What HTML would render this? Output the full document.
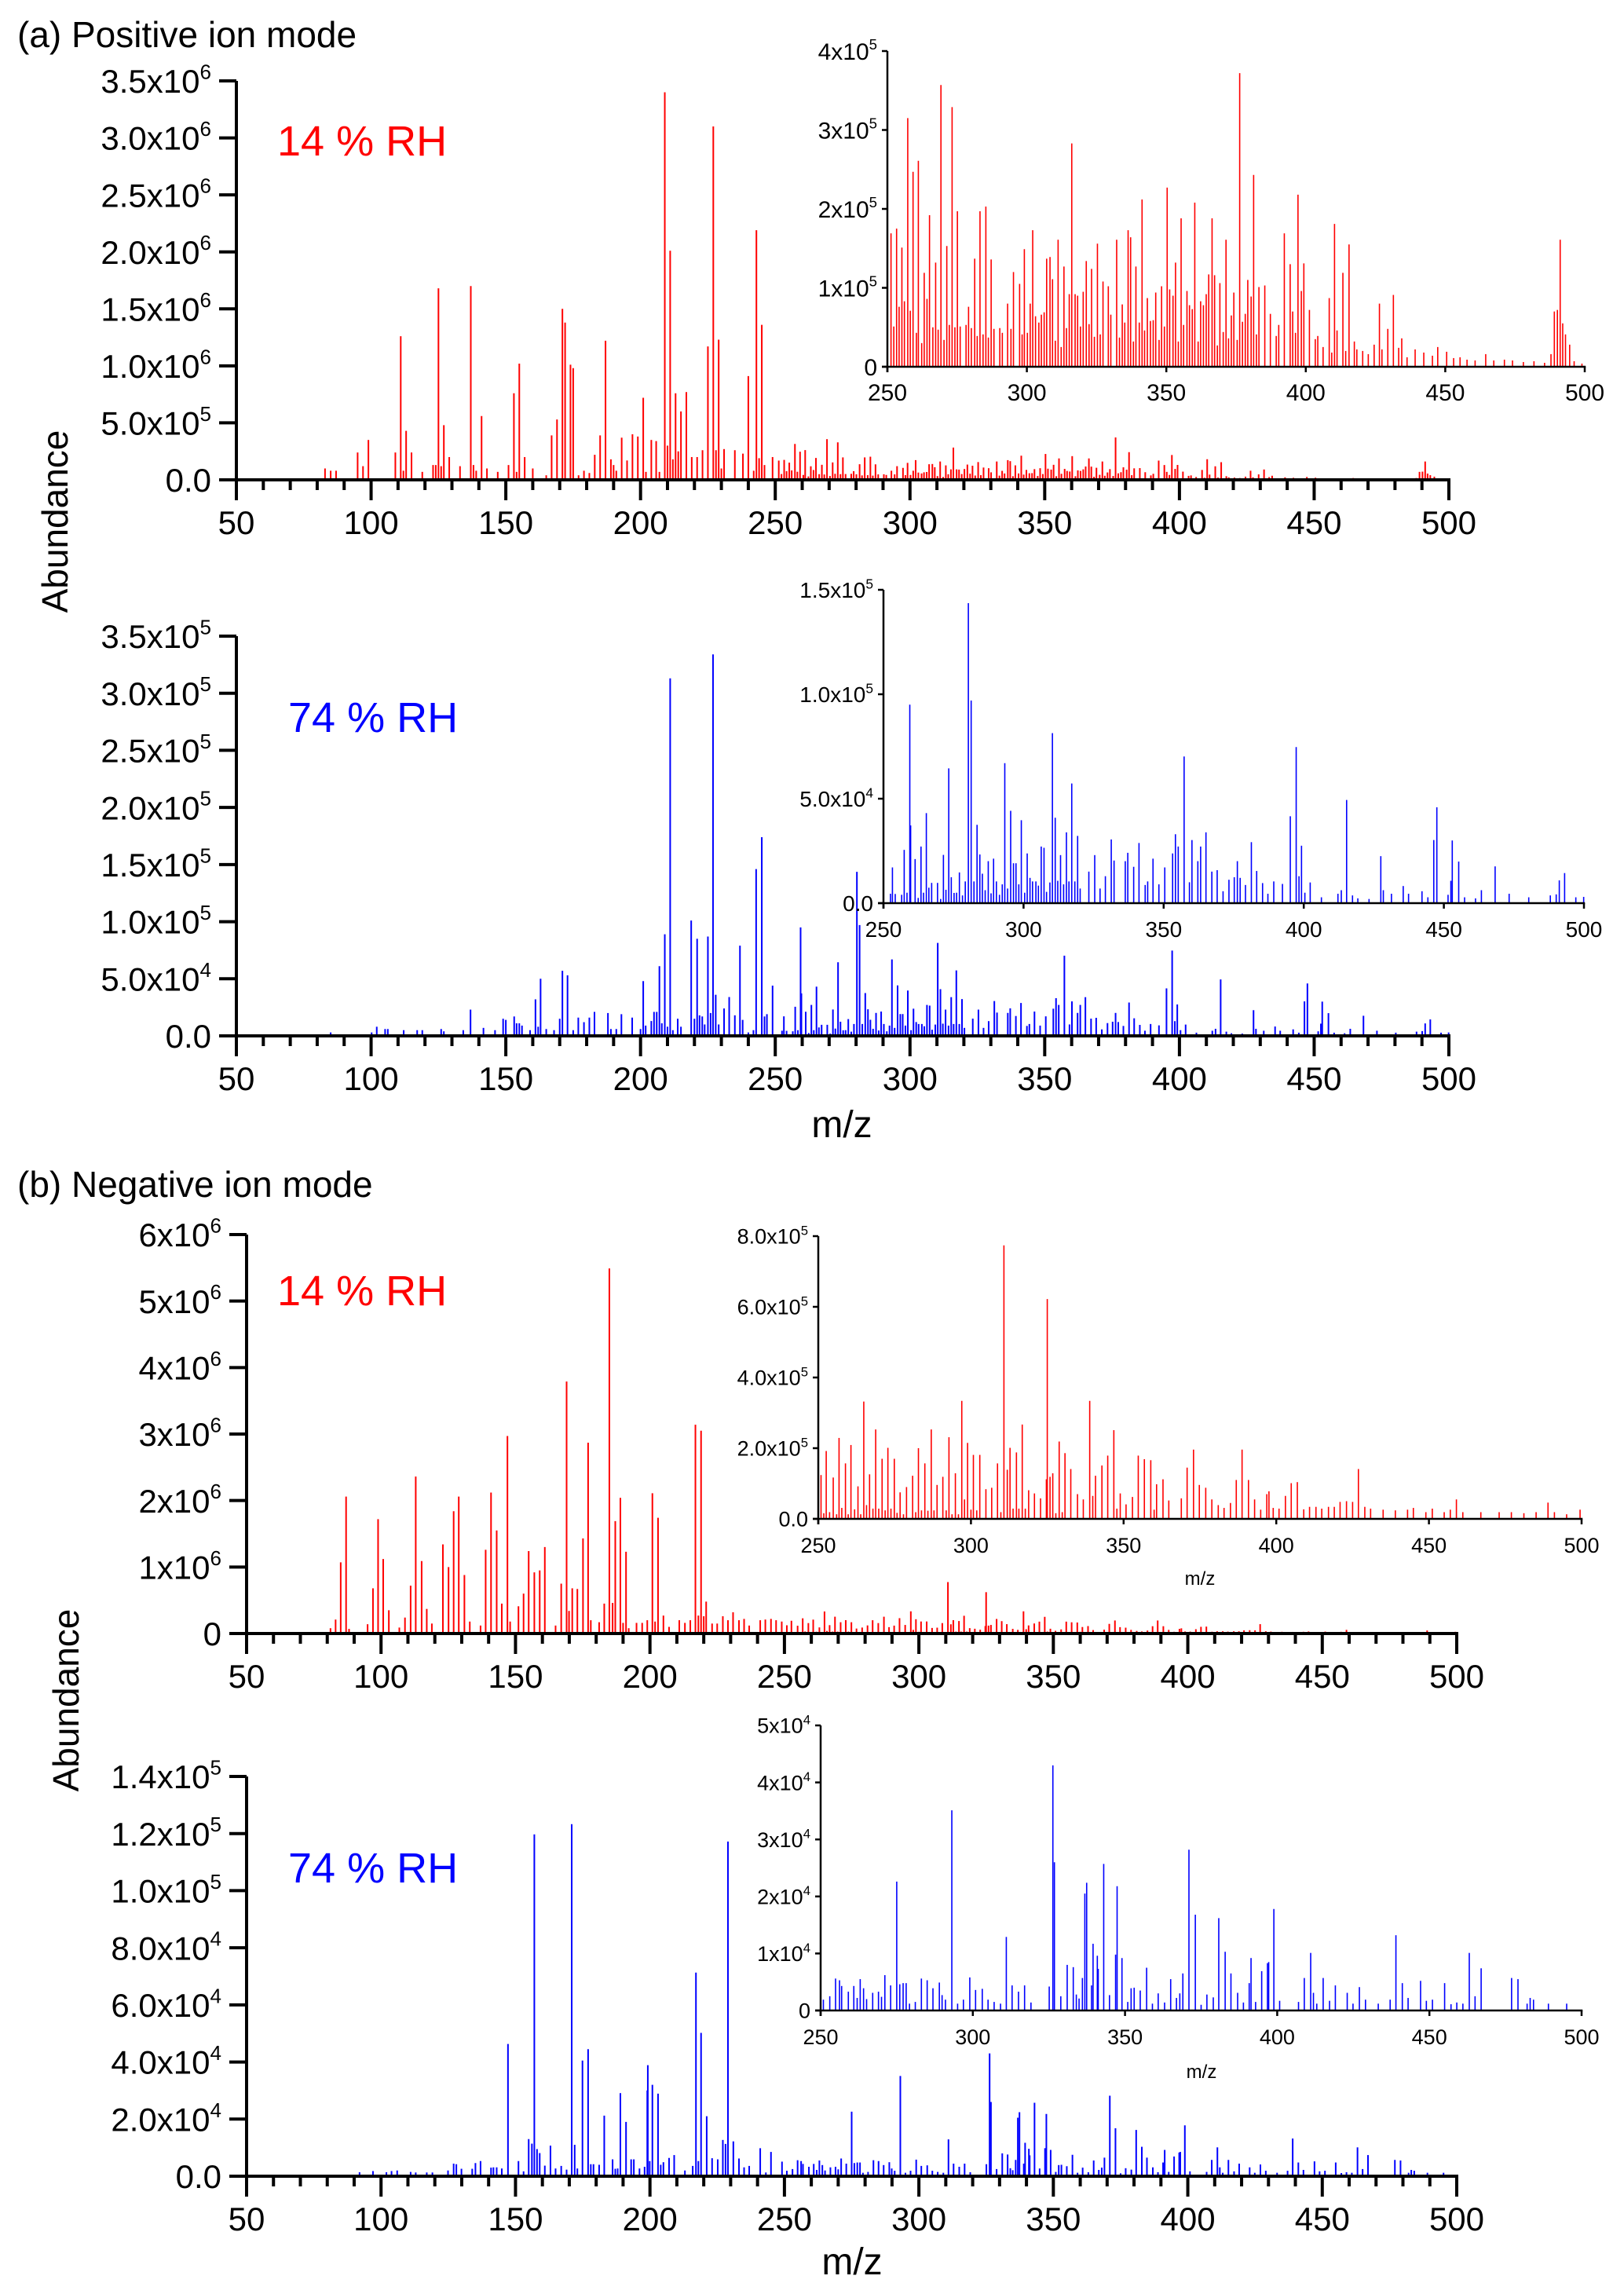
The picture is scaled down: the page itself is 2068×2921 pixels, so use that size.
<!DOCTYPE html>
<html><head><meta charset="utf-8"><title>Mass spectra</title>
<style>
html,body{margin:0;padding:0;background:#fff;}
svg{display:block;font-family:"Liberation Sans",Arial,sans-serif;}
</style></head>
<body>
<svg id="fig" width="2068" height="2921" viewBox="0 0 2068 2921" xmlns="http://www.w3.org/2000/svg">
<rect x="0" y="0" width="2068" height="2921" fill="#fff"/>
<text x="22" y="60" font-size="46" fill="#000">(a) Positive ion mode</text>
<text x="22" y="1524" font-size="46" fill="#000">(b) Negative ion mode</text>
<text x="353" y="198" font-size="54" fill="#ff0000">14 % RH</text>
<text x="367" y="932" font-size="54" fill="#0000ff">74 % RH</text>
<text x="353" y="1662" font-size="54" fill="#ff0000">14 % RH</text>
<text x="367" y="2397" font-size="54" fill="#0000ff">74 % RH</text>
<text transform="translate(86,664) rotate(-90)" text-anchor="middle" font-size="46" fill="#000">Abundance</text>
<text transform="translate(100,2165) rotate(-90)" text-anchor="middle" font-size="46" fill="#000">Abundance</text>
<text x="1072" y="1448" text-anchor="middle" font-size="48" fill="#000">m/z</text>
<text x="1085" y="2896" text-anchor="middle" font-size="48" fill="#000">m/z</text>
<text x="1528" y="2018" text-anchor="middle" font-size="24" fill="#000">m/z</text>
<text x="1530" y="2646" text-anchor="middle" font-size="24" fill="#000">m/z</text>
<g id="layer"></g>
</svg>
<script>
// ---- Spectrum (a) positive, 14 % RH ----  low: x1e6, high: x1e5
const a1MzLow=[82.9,85,87,95,97,99,109,111,112,113,115,119,123,124,125,126,127,129,133,137,138,139,141,143,147,151,153,154,155,157,160,165,167,169,171,172,174,175,177,179,181,183,185,187,189,190,191,193,195,197,199,201,202,204,205.8,207,209,210,211,212,213,214,215,217,219,221,223,225,227,228,229,230,231,235,238,240,242,243,244,245,246,249];
const a1AbLow=[0.1,0.08,0.08,0.24,0.12,0.35,0.24,1.26,0.08,0.43,0.24,0.07,0.13,0.13,1.68,0.12,0.48,0.2,0.12,1.70,0.13,0.08,0.56,0.1,0.07,0.13,0.76,0.07,1.02,0.2,0.1,0.04,0.39,0.53,1.50,1.38,1.01,0.98,0.04,0.08,0.06,0.22,0.39,1.22,0.18,0.13,0.08,0.37,0.17,0.4,0.38,0.72,0.07,0.35,0.34,0.07,3.40,0.3,2.01,0.18,0.76,0.25,0.6,0.77,0.2,0.2,0.26,1.17,3.10,0.26,1.23,0.1,0.27,0.26,0.23,0.91,0.08,2.19,0.19,1.36,0.13,0.2];
const a1MzHigh=[251.3,252.3,253.3,254.2,255.2,256.1,257.3,258.2,259.2,260.4,261.1,262.3,263.2,264.2,265.1,266.3,267.3,268.2,269.2,270.3,271.3,272.2,273.2,274.2,275.1,276.1,278.2,279.1,280.1,281.3,282.2,283.2,284.3,285.3,286.2,287.2,288.2,290.3,291.2,293.1,294.3,295.2,297.4,298.3,299.1,300.2,301.2,302.1,303.1,304.3,305.2,306.2,307.1,308.3,309.2,310.2,311.2,312.3,313.3,314.2,315.2,316.1,317.3,318.2,319.2,320.2,321.3,322.3,323.2,324.2,325.3,326.3,327.3,329.2,330.1,332.2,333.2,334.2,335.1,336.3,337.2,338.2,339.1,340.3,341.3,342.2,343.2,344.3,345.3,346.2,347.4,348.3,349.3,350.3,351.2,352.4,353.3,354.3,355.3,356.2,357.4,358.3,359.3,360.2,361.4,362.3,363.3,364.3,365.2,366.4,367.3,368.3,369.2,370.4,371.4,372.3,373.3,374.2,375.4,376.3,377.3,378.3,379.2,380.4,381.3,382.3,383.2,385.3,387.3,389.4,390.3,392.3,394.4,395.3,396.3,397.2,398.4,399.3,401.3,403.4,404.3,406.2,408.4,409.3,410.3,411.2,413.3,414.3,415.5,417.4,418.3,420.4,422.4,424.5,426.4,427.3,429.4,431.4,433.3,434.4,436.3,439.2,442.3,445.4,447.3,450.5,453,455.3,457.8,460.7,464.5,467.4,471.2,474.1,478,481.8,485.6,487.9,489.1,490.2,491.2,492.1,493.1,494.6,496.2,499];
const a1AbHigh=[1.69,0.51,1.75,0.76,1.51,0.83,3.15,0.71,2.47,0.43,2.61,0.30,1.19,0.86,1.92,0.5,1.32,0.47,3.57,0.34,1.53,0.53,3.29,0.5,1.97,0.51,0.53,0.76,0.49,1.37,0.39,1.97,0.41,2.03,0.37,1.36,0.48,0.49,0.43,0.8,0.48,1.2,1.05,0.41,1.49,0.43,0.8,1.73,0.64,0.56,0.66,0.69,1.37,1.39,1.11,0.33,1.61,0.25,1.27,0.49,0.92,2.83,0.92,0.9,0.51,0.95,1.34,0.54,1.24,0.38,1.56,0.41,1.08,1.02,0.66,1.61,0.37,0.79,0.56,1.73,1.64,0.32,1.27,0.56,2.12,0.46,0.87,0.58,0.59,0.94,0.34,1.02,0.51,2.27,0.98,0.9,1.32,0.32,1.88,0.53,0.96,0.78,0.73,2.08,0.32,0.83,0.78,0.92,1.17,1.88,1.16,0.27,1.06,0.44,1.61,0.36,0.65,0.94,0.34,3.72,0.57,0.67,1.10,0.89,2.43,0.41,1.01,1.03,0.67,0.39,0.53,1.69,1.3,0.7,0.43,2.18,0.96,1.31,0.72,0.35,0.39,0.25,0.87,0.18,1.81,0.46,1.19,0.2,1.55,0.32,0.22,0.2,0.16,0.28,0.8,0.22,0.48,0.91,0.24,0.36,0.12,0.22,0.18,0.14,0.25,0.19,0.11,0.12,0.09,0.08,0.16,0.08,0.09,0.08,0.06,0.07,0.05,0.16,0.7,0.72,1.61,0.55,0.41,0.28,0.07,0.04];

// ---- Spectrum (a) positive, 74 % RH ----  low: x1e5, high: x1e4
const a2MzLow=[85,100.2,102.1,105.2,106.2,112.1,117.1,119,126,127,134.2,136.9,141.7,146,149,150,153.1,154,155,156,159,161,162,162.9,165,167.9,170,171,172.9,175,176.9,179,181,182.9,187.9,189,191,192.9,196.9,200,201,201.9,204,205,206,207,207.9,209,210,211,212,213.8,215,218.8,220,221,221.9,222.9,223.8,225,226,226.9,227.9,229,231,232.9,235,236.9,237.9,240,241.9,242.9,245,246,246.9,249];
const a2AbLow=[0.03,0.03,0.08,0.06,0.06,0.05,0.05,0.05,0.06,0.04,0.05,0.23,0.07,0.05,0.15,0.14,0.17,0.11,0.11,0.09,0.05,0.32,0.08,0.50,0.06,0.05,0.15,0.57,0.53,0.05,0.16,0.12,0.16,0.21,0.2,0.06,0.06,0.19,0.16,0.06,0.48,0.09,0.13,0.21,0.21,0.61,0.11,0.89,0.08,3.13,0.05,0.15,0.08,1.01,0.15,0.85,0.18,0.17,0.1,0.87,0.2,3.34,0.36,0.1,0.24,0.34,0.18,0.79,0.14,0.03,0.05,1.46,1.74,0.17,0.19,0.44];
const a2MzHigh=[252.5,253.2,254.2,256.5,257.4,258.4,259.4,259.7,261.3,262.4,263.4,264.3,265.3,266.2,267.2,269.3,270.4,271.4,272.3,273.3,274.2,275.2,276.1,277.1,278.2,279.2,280.3,281.3,282.3,283.4,284.4,285.3,286.3,287.4,288.4,289.3,290.3,291.4,292.4,293.3,294.3,295.4,296.4,297.3,298.3,299.2,300.4,301.3,302.3,303.2,304.4,305.3,306.3,307.3,308.2,309.4,310.3,311.3,312.2,313.2,314.3,315.3,316.2,317.2,318.3,319.3,320.2,323.3,325.4,327.3,329.2,331.3,332.3,336.3,337.2,339.3,341.2,343.4,344.3,346.2,348.3,350.4,353.2,354.2,355.2,357.3,359.2,360.1,362.2,363.2,365.1,367.2,369.1,371.2,373.3,375.2,376.3,377.3,379.2,381.3,383.2,385.3,387.2,389.3,392.4,395.2,397.3,398.3,399.2,400.4,402.3,406.3,412.2,413.4,415.3,417.4,419.3,423.3,427.5,428.4,431.3,435.5,437.4,442.2,444.3,446.4,447.5,451.5,452.5,453,455.3,457.4,461.3,463.4,468.3,473.3,480.3,488,490.1,491.2,493.1,497.1,499.9];
const a2AbHigh=[0.45,1.71,0.44,0.4,2.55,0.5,9.5,3.72,2.11,0.25,2.71,0.5,4.31,0.74,0.97,0.97,0.2,2.31,0.64,6.45,1.24,0.49,0.5,1.47,0.37,1.04,14.36,9.7,1.04,3.75,2.33,1.41,0.62,2.01,0.47,2.13,1.04,0.4,0.9,6.7,0.7,4.42,1.91,1.91,0.9,3.97,0.5,2.38,1.21,1.04,1.04,0.84,2.71,2.65,0.54,0.99,8.14,4.09,1.07,2.3,0.9,3.39,1.04,5.73,1.04,3.22,0.7,1.51,2.3,0.7,1.29,3.05,2.04,2.01,2.41,1.74,2.88,0.87,1.04,2.13,0.9,1.71,2.38,3.3,2.71,7.02,1.0,3.02,2.01,2.71,3.39,1.51,1.58,0.57,1.12,1.24,2.01,1.21,0.87,2.92,1.54,0.96,0.45,1.04,0.92,4.16,7.47,1.29,2.75,0.5,0.99,0.28,0.45,0.62,4.94,0.37,0.23,0.2,2.25,0.62,0.45,0.82,0.45,0.57,0.28,3.02,4.59,0.4,1.07,3.0,1.99,0.28,0.23,0.62,1.76,0.45,0.28,0.37,0.42,1.09,1.44,0.28,0.3];

// ---- Spectrum (b) negative, 14 % RH ----  low: x1e6, high: x1e5
const b1MzLow=[81.2,83.1,85,87,88.1,95,97,98.9,100.8,102.9,106.8,108.9,111,112.9,115.1,117,118.9,123,125.1,127,128.9,131,133,137,138.9,140.9,143,144.9,147,148,151.1,153,154.9,157,159,160.9,164.9,167,169,169.9,171.1,173,175.1,177,178,181.1,183,184.9,186.1,187.1,189,190,191.1,192.1,195,197.1,199,200.9,201.9,203,205,207.1,210.9,213,215,216.9,218,219,220,220.9,223.1,225,227.1,229,230.9,233.1,235,236.9,241,242.9,245,246.9,249];
const b1AbLow=[0.08,0.21,1.07,2.06,0.07,0.14,0.68,1.72,1.12,0.35,0.09,0.24,0.72,2.36,1.09,0.37,0.15,1.34,1.0,1.84,2.06,0.88,0.18,0.12,1.26,2.12,1.55,0.45,2.97,0.18,0.41,0.6,1.24,0.92,0.95,1.3,0.12,0.75,3.79,0.34,0.68,0.67,1.43,2.87,0.2,0.17,0.45,5.49,0.46,1.69,2.04,0.16,1.23,0.08,0.16,0.16,0.2,2.11,0.18,1.74,0.27,0.1,0.2,0.16,0.2,3.14,0.27,3.05,0.26,0.48,0.15,0.15,0.26,0.2,0.32,0.2,0.22,0.12,0.2,0.21,0.22,0.2,0.18];
const b1MzHigh=[250.9,251.8,252.6,253.7,254.9,256,256.8,257.7,258.9,259.8,260.7,261.9,263,263.9,264.9,265.8,266.8,267.9,268.8,269.8,270.9,271.9,272.8,273.8,274.9,275.8,276.8,277.9,278.9,280.9,281.9,282.8,283.8,284.9,285.9,287,287.9,288.9,290.8,291.9,292.8,293.8,294.9,295.9,297,297.9,298.9,300,300.8,301.9,302.9,304.9,306.8,308.7,309.8,310.8,311.9,312.8,313.8,314.9,315.7,316.8,317.8,318.9,320.8,322.8,324.7,325.0,325.9,326.8,327.8,328.9,329.9,330.8,332.7,334.9,336.8,338.9,339.9,340.8,342.9,344.8,346.8,347.8,348.9,350.8,352.9,354.8,356.8,358.9,360,360.8,362.9,364.8,368.9,370.8,372.9,374.8,376.9,378.9,381,382.9,385,386.9,388.8,390.9,392.9,394.9,396.9,397.6,399,400.9,403,404.9,406.9,409,410.9,413,414.9,417.1,419,420.9,423,425,426.9,429,430.9,435,439,443,444.9,449,451.1,455,457,459,461.1,467,473,477,481.1,485.1,489,491.1,495.1,499.5];
const b1AbHigh=[1.24,0.16,1.92,0.19,1.17,0.13,2.29,0.31,1.57,0.13,2.09,0.27,0.92,0.13,3.32,0.39,1.26,0.29,2.53,0.29,1.7,0.24,2.01,0.29,1.7,0.17,0.75,0.13,0.9,1.22,0.19,2.0,0.24,1.57,0.23,2.53,0.24,0.96,1.19,0.24,2.31,0.13,1.29,0.13,3.34,0.55,2.15,0.26,1.81,0.24,1.81,0.84,0.88,1.57,0.19,7.74,1.39,2.01,0.29,1.88,0.29,2.67,0.29,0.81,0.72,0.58,1.12,6.22,1.19,1.29,0.16,2.19,0.19,1.86,1.41,0.7,0.55,3.34,0.65,1.22,1.51,1.79,2.51,0.29,0.72,0.41,0.62,1.79,1.69,1.66,0.26,0.98,1.12,0.52,0.58,1.45,1.96,0.96,0.88,0.55,0.39,0.31,0.45,1.1,1.96,1.1,0.55,0.26,0.7,0.78,0.31,0.29,0.65,1.01,1.04,0.27,0.34,0.34,0.29,0.34,0.34,0.48,0.5,0.48,1.41,0.34,0.29,0.26,0.24,0.26,0.31,0.19,0.29,0.19,0.26,0.55,0.19,0.19,0.19,0.19,0.16,0.19,0.46,0.19,0.13,0.26];

// ---- Spectrum (b) negative, 74 % RH ----  all x1e4
const b2MzLow=[92,97,102,103.9,106,111,112.9,117,119.1,124.9,127,128,129.9,133.9,135.1,137,140.9,141.8,143,144.9,147.2,151.1,153,154.9,156.1,157,158,159,160.9,163,164.9,167,169,170.9,172,173,174.9,177,178,179,181.1,183,186.1,187.1,188,189,191.1,193,194,196.1,198,199,199.2,199.9,200.9,203,204,205,207.1,209,213,215.9,217.1,218,219,221.1,223.1,225.2,227.1,228.1,229,231,233.1,235,236.9,241,243.1,245,249.1];
const b2AbLow=[0.14,0.18,0.14,0.18,0.2,0.15,0.13,0.13,0.13,0.2,0.44,0.42,0.26,0.26,0.46,0.53,0.3,0.31,0.31,0.27,4.63,0.53,0.17,1.3,1.14,11.97,0.95,0.81,0.37,1.07,0.27,0.36,0.23,12.33,1.1,0.27,4.05,4.45,0.42,0.42,0.4,2.12,0.59,0.26,0.27,2.91,1.9,0.59,0.59,0.27,0.33,3.0,3.89,0.53,3.2,2.89,0.4,0.49,0.64,0.74,0.2,0.36,7.13,0.53,5.02,2.1,0.63,0.59,1.27,1.13,11.72,1.22,0.62,0.31,0.36,0.98,0.13,0.85,0.51];
const b2MzHigh=[250.9,253,254.9,256.2,256.9,259.1,260.9,262,263,264.1,265.1,267.1,269,270,271.1,273,275,276,277.1,278.1,279.2,281.1,283.1,285,286.9,289,289.9,291,293.1,295,296.9,299,300.9,303.1,305,307,309.1,311,312.9,315,317,319.1,325.1,326.3,326.8,328.9,331,333,334,334.9,336,336.8,337.4,339,339.5,340.9,341.2,343,344.9,346.9,347.4,349,350.9,352,353,355,357.1,359,360.9,363,365,366.9,368,369,371,373.1,375,376.9,379,380.8,382.9,384.8,387,388.9,390.8,391.4,392.9,394.9,396.8,397.2,398.9,400.8,407,408.9,411,411.9,413,415.1,417.2,419.1,423,424.9,427,429,433.2,437.1,439,441.1,443,447.1,449,451,455,457.1,459,461,463.1,465,467,477,479.1,482.1,483.1,484.2,489.1,495.1];
const b2AbHigh=[0.19,0.25,0.56,0.53,0.43,0.33,0.43,0.22,0.55,0.39,0.2,0.31,0.33,0.24,0.62,0.44,2.26,0.46,0.48,0.48,0.12,0.15,0.56,0.53,0.39,0.49,0.27,0.19,3.51,0.12,0.19,0.58,0.36,0.38,0.19,0.15,0.12,1.29,0.44,0.33,0.44,0.14,0.42,4.3,2.6,0.25,0.8,0.76,0.28,0.21,0.57,2.05,2.24,0.44,1.17,0.96,0.73,2.57,0.27,0.98,2.18,0.92,0.15,0.39,0.4,0.35,0.75,0.12,0.3,0.14,0.55,0.22,0.3,0.65,2.82,1.68,0.1,0.28,0.23,1.62,1.03,0.65,0.31,0.14,0.48,0.92,0.15,0.69,0.83,0.85,1.78,0.17,0.15,0.57,1.01,0.31,0.12,0.57,0.17,0.44,0.31,0.12,0.41,0.19,0.12,0.19,1.32,0.48,0.22,0.52,0.17,0.19,0.48,0.11,0.14,0.12,1.01,0.25,0.74,0.57,0.55,0.12,0.22,0.19,0.12,0.12];

// ---- axis tick values / labels ----
const a1MainTicks=[0,0.5,1,1.5,2,2.5,3,3.5];
const a1MainLabels=["0.0","5.0x10^5","1.0x10^6","1.5x10^6","2.0x10^6","2.5x10^6","3.0x10^6","3.5x10^6"];
const a1InsetTicks=[0,1,2,3,4];
const a1InsetLabels=["0","1x10^5","2x10^5","3x10^5","4x10^5"];
const a2MainTicks=[0,0.5,1,1.5,2,2.5,3,3.5];
const a2MainLabels=["0.0","5.0x10^4","1.0x10^5","1.5x10^5","2.0x10^5","2.5x10^5","3.0x10^5","3.5x10^5"];
const a2InsetTicks=[0,5,10,15];
const a2InsetLabels=["0.0","5.0x10^4","1.0x10^5","1.5x10^5"];
const b1MainTicks=[0,1,2,3,4,5,6];
const b1MainLabels=["0","1x10^6","2x10^6","3x10^6","4x10^6","5x10^6","6x10^6"];
const b1InsetTicks=[0,2,4,6,8];
const b1InsetLabels=["0.0","2.0x10^5","4.0x10^5","6.0x10^5","8.0x10^5"];
const b2MainTicks=[0,2,4,6,8,10,12,14];
const b2MainLabels=["0.0","2.0x10^4","4.0x10^4","6.0x10^4","8.0x10^4","1.0x10^5","1.2x10^5","1.4x10^5"];
const b2InsetTicks=[0,1,2,3,4,5];
const b2InsetLabels=["0","1x10^4","2x10^4","3x10^4","4x10^4","5x10^4"];
const mainXTicks=[50,100,150,200,250,300,350,400,450,500];
const insetXTicks=[250,300,350,400,450,500];

const NS="http://www.w3.org/2000/svg";
const layer=document.getElementById('layer');
function mk(tag,attrs,parent){const e=document.createElementNS(NS,tag);for(const k in attrs)e.setAttribute(k,attrs[k]);(parent||layer).appendChild(e);return e;}
function label(parent,str,x,y,size,anchor){
  const t=mk('text',{x:x,y:y,'font-size':size,'text-anchor':anchor,fill:'#000'},parent);
  
  
  const parts=str.split('^');
  const m=document.createElementNS(NS,'tspan');m.textContent=parts[0];t.appendChild(m);
  if(parts.length>1){const s=document.createElementNS(NS,'tspan');s.setAttribute('dy',-size*0.42);s.setAttribute('font-size',size*0.62);s.textContent=parts[1];t.appendChild(s);}
  return t;
}
function combine(mzA,abA,sA,mzB,abB,sB){const out=[];mzA.forEach((m,i)=>out.push([m,abA[i]*sA]));mzB.forEach((m,i)=>out.push([m,abB[i]*sB]));return out;}

function drawPanel(name,cfg,peaks,ticks,labels,unit,color){
  const g=mk('g',{});
  
  
  const sx=v=>cfg.x0+(v-cfg.xmin)*(cfg.x1-cfg.x0)/(cfg.xmax-cfg.xmin);
  const sy=v=>cfg.y0-v*(cfg.y0-cfg.yTop)/(ticks[ticks.length-1]*unit);
  // peaks
  const pg=mk('g',{stroke:color,'stroke-width':cfg.pw},g);
  
  
  peaks.forEach(p=>{
    if(p[0]<cfg.xmin||p[0]>cfg.xmax)return;
    const x=sx(p[0]);
    const l=mk('line',{x1:x,x2:x,y1:cfg.y0,y2:sy(p[1])},pg);
    
    
  });
  // axes
  const ax=mk('g',{stroke:'#000','stroke-width':cfg.aw,fill:'none'},g);
  
  
  mk('line',{x1:cfg.x0-cfg.ytl,x2:cfg.x1+cfg.aw/2,y1:cfg.y0,y2:cfg.y0},ax);
  mk('line',{x1:cfg.x0,x2:cfg.x0,y1:cfg.y0+cfg.xtl,y2:sy(ticks[ticks.length-1]*unit)},ax);
  ticks.forEach((t,i)=>{
    const y=sy(t*unit);
    mk('line',{x1:cfg.x0-cfg.ytl,x2:cfg.x0,y1:y,y2:y},ax);
    label(g,labels[i],cfg.x0-cfg.ytl-cfg.lgap,y+cfg.fs*0.36,cfg.fs,'end');
  });
  if(cfg.minor){
    for(let v=cfg.xmin;v<=cfg.xmax;v+=10){
      if(v%50===0)continue;
      const x=sx(v);mk('line',{x1:x,x2:x,y1:cfg.y0,y2:cfg.y0+cfg.xtl*0.5},ax);
    }
  }
  cfg.xt.forEach(v=>{
    const x=sx(v);
    mk('line',{x1:x,x2:x,y1:cfg.y0,y2:cfg.y0+cfg.xtl},ax);
    label(g,String(v),x,cfg.y0+cfg.xlo,cfg.fs,'middle');
  });
}

const a1=combine(a1MzLow,a1AbLow,1e6,a1MzHigh,a1AbHigh,1e5);
const a2=combine(a2MzLow,a2AbLow,1e5,a2MzHigh,a2AbHigh,1e4);
const b1=combine(b1MzLow,b1AbLow,1e6,b1MzHigh,b1AbHigh,1e5);
const b2=combine(b2MzLow,b2AbLow,1e4,b2MzHigh,b2AbHigh,1e4);

const mainCfg=(x0,x1,y0,yTop)=>({x0,x1,y0,yTop,xmin:50,xmax:500,pw:2,aw:4,ytl:22,xtl:26,lgap:10,fs:42,xlo:69,xt:mainXTicks,minor:true});
const insetCfg=(x0,x1,y0,yTop,fs)=>({x0,x1,y0,yTop,xmin:250,xmax:500,pw:1.6,aw:2.5,ytl:7,xtl:7,lgap:6,fs:fs,xlo:43,xt:insetXTicks,minor:false});

drawPanel('spectrum-pos-14rh',mainCfg(301,1845,611,103),a1,a1MainTicks,a1MainLabels,1e6,'#ff0000');
drawPanel('inset-pos-14rh',insetCfg(1130,2018,467,65,30),a1,a1InsetTicks,a1InsetLabels,1e5,'#ff0000');
drawPanel('spectrum-pos-74rh',mainCfg(301,1845,1319,810),a2,a2MainTicks,a2MainLabels,1e5,'#0000ff');
drawPanel('inset-pos-74rh',insetCfg(1125,2017,1150,751,28),a2,a2InsetTicks,a2InsetLabels,1e4,'#0000ff');
drawPanel('spectrum-neg-14rh',mainCfg(314,1855,2080,1572),b1,b1MainTicks,b1MainLabels,1e6,'#ff0000');
drawPanel('inset-neg-14rh',insetCfg(1042,2014,1934,1574,27),b1,b1InsetTicks,b1InsetLabels,1e5,'#ff0000');
drawPanel('spectrum-neg-74rh',mainCfg(314,1855,2771,2262),b2,b2MainTicks,b2MainLabels,1e4,'#0000ff');
drawPanel('inset-neg-74rh',insetCfg(1045,2014,2560,2197,27),b2,b2InsetTicks,b2InsetLabels,1e4,'#0000ff');
</script>
</body></html>
